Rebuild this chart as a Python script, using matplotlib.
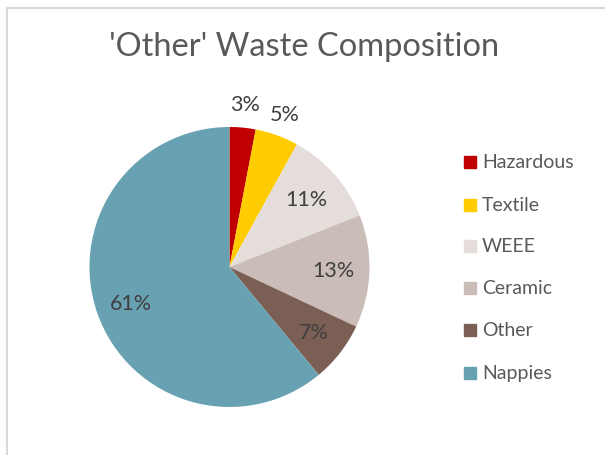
import numpy as np
import matplotlib.pyplot as plt

# Composition of the 'Other' waste stream (percent)
categories = ['Hazardous', 'Textile', 'WEEE', 'Ceramic', 'Other', 'Nappies']
shares = [3, 5, 11, 13, 7, 61]
colours = ['#C00000', '#FFCC00', '#E4DDDA', '#CABDB7', '#7B5F55', '#68A1B1']

plt.rcParams['font.family'] = ['Lato', 'DejaVu Sans']

fig = plt.figure(figsize=(6.05, 4.56), dpi=100)

# light chart-area border along the top and left edges
fig.add_artist(plt.Line2D([0.0115, 0.0115], [0, 0.98], color='#D9D9D9', lw=1.5))
fig.add_artist(plt.Line2D([0.0115, 1.0], [0.98, 0.98], color='#D9D9D9', lw=1.5))

fig.text(0.503, 1 - 47 / 456, "'Other' Waste Composition", ha='center', va='center',
         fontsize=23.5, color='#595959')

ax = fig.add_axes([0.1479, 0.1053, 0.4628, 0.614])
wedges, _ = ax.pie(shares, colors=colours, startangle=90, counterclock=False,
                   radius=1.0, wedgeprops=dict(linewidth=0))
ax.set_xlim(-1, 1)
ax.set_ylim(-1, 1)
ax.set_aspect('equal')

# small slices get their labels outside the pie
label_r = [1.17, 1.16, 0.73, 0.74, 0.76, 0.75]
for w, v, r in zip(wedges, shares, label_r):
    ang = np.deg2rad((w.theta1 + w.theta2) / 2)
    ax.text(r * np.cos(ang), r * np.sin(ang), f'{v}%', ha='center', va='center',
            fontsize=15.5, color='#404040', clip_on=False)

# legend drawn as squares + text
ys = [163, 206, 247, 289, 331, 374]
for cat, col, y in zip(categories, colours, ys):
    fy = 1 - y / 456
    fig.add_artist(plt.Rectangle((464 / 605, fy - 6 / 456), 12 / 605, 12 / 456,
                                 color=col, transform=fig.transFigure))
    fig.text(482 / 605, fy, cat, ha='left', va='center', fontsize=14, color='#595959')

fig.savefig('out.png', dpi=100, facecolor='white')
